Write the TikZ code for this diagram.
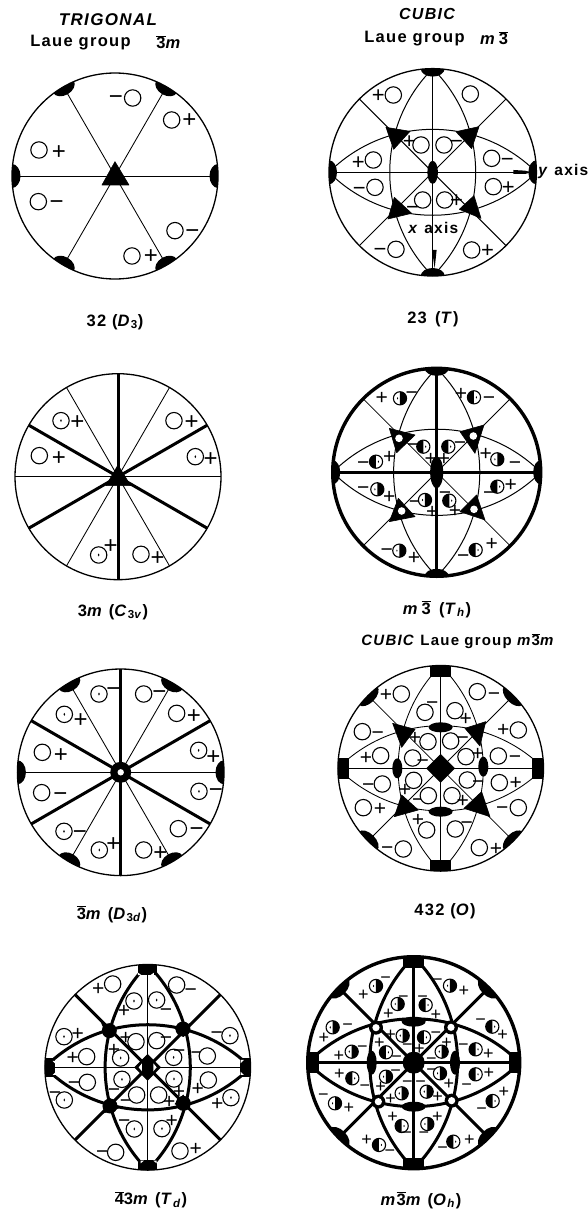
\documentclass[tikz,border=0pt]{standalone}
\usepackage{fontspec}
\setmainfont[LetterSpace=8]{Liberation Sans}
\newfontfamily\sgnfont{Liberation Sans}
\newcount\symid
\def\sgs{24}
\tikzset{
 thinl/.style={line width=0.85pt},
 medl/.style={line width=1pt},
 thickl/.style={line width=3pt},
 rimthin/.style={line width=1.3pt},
 rimthick/.style={line width=3.4pt},
 sgn/.style={inner sep=0pt,text height=0.7*\sgs pt,text depth=0pt,font=\fontsize{\sgs}{\sgs}\sgnfont},
 lab/.style={inner sep=0pt,font=\fontsize{16.5}{18}\selectfont\bfseries},
 blk/.style={fill=black,draw=black,line width=0.6pt,line join=round},
 sym/.style={draw=black,fill=white,line width=1.1pt},
}
\newcommand\ov[1]{\ensuremath{\overline{\mbox{#1}}}}
\newcommand\pl[2]{\global\advance\symid by 1 \node[sgn] (s\the\symid) at (#1,#2) {+};}
\newcommand\mi[2]{\global\advance\symid by 1 \node[sgn] (s\the\symid) at (#1,#2) {−};}
\newcommand\ci[2]{\draw[sym] (#1,#2) circle[radius=8.2pt];}
\newcommand\cc[2]{\draw[sym] (#1,#2) circle[radius=8.2pt];\fill (#1,#2) ellipse[x radius=0.8pt,y radius=1.5pt];}
% half-filled circles: black half right or left, comma in the open half
\newcommand\hr[3][6.6pt]{\draw[sym] (#2,#3) circle[radius=#1];\fill (#2,#3)++(0,#1) arc[start angle=90,end angle=-90,radius=#1]--cycle;\fill (#2,#3)++(-2.4pt,0) ellipse[x radius=.6pt,y radius=1.2pt];}
\newcommand\hl[3][6.6pt]{\draw[sym] (#2,#3) circle[radius=#1];\fill (#2,#3)++(0,#1) arc[start angle=90,end angle=270,radius=#1]--cycle;\fill (#2,#3)++(2.4pt,0) ellipse[x radius=.6pt,y radius=1.2pt];}
% rim and clipped helpers, with \R the radius in pt
\newcommand\rays[3]{\foreach \a in {#2}{\draw[#1] (0,0)--(\a:\R pt);}}
\newcommand\bigarcs[1]{\begin{scope}\clip (0,0) circle[radius=\R pt];
 \foreach \p in {(\R pt,0),(-\R pt,0),(0,\R pt),(0,-\R pt)}{\draw[#1] \p circle[radius=1.41421*\R pt];}\end{scope}}
\newcommand\rimlens[3]{\begin{scope}\clip (0,0) circle[radius=\R pt];
 \foreach \a in {#1}{\fill[shift={(\a:\R pt)},rotate=\a] (0,0) ellipse[x radius=#2 pt,y radius=#3 pt];}\end{scope}}
\newcommand\rimsq[3]{\begin{scope}\clip (0,0) circle[radius=\R pt];
 \foreach \a in {#1}{\fill[shift={(\a:\R pt)},rotate=\a] (-#2 pt,-#3 pt) rectangle (2pt,#3 pt);}\end{scope}}
\begin{document}
\begin{tikzpicture}[x=1pt,y=-1pt]
\useasboundingbox[fill=white] (0,0) rectangle (588,1213);
%% ---- headings and captions
\node[lab,font=\fontsize{17}{18}\selectfont\bfseries\itshape] (h1) at (108,20) {TRIGONAL};
\node[lab] (h2) at (80.5,43) {Laue group};
\node[lab] (h3) at (169,42) {\ov{3}\textit{m}};
\node[lab,font=\fontsize{16}{18}\selectfont\itshape\bfseries] (h4) at (427,14) {CUBIC};
\node[lab] (h5) at (414.5,39) {Laue group};
\node[lab] (h6) at (494,38) {\textit{m}\,\ov{3}};
\node[lab] (c1) at (115,322) {32 (\textit{D}\textsubscript{3})};
\node[lab] (c2) at (433,319) {23\enspace(\textit{T})};
\node[lab] (c3) at (113,612) {3\textit{m} (\textit{C}\textsubscript{3\textit{v}})};
\node[lab] (c4) at (437,609) {\textit{m}\,\ov{3}\enspace(\textit{T}\textsubscript{\textit{h}})};
\node[lab,font=\fontsize{15}{18}\selectfont\bfseries] (c5) at (458,641) {\textit{CUBIC} Laue group \textit{m}\ov{3}\textit{m}};
\node[lab] (c6) at (112,914) {\ov{3}\textit{m} (\textit{D}\textsubscript{3\textit{d}})};
\node[lab] (c7) at (445,911) {432 (\textit{O})};
\node[lab] (c8) at (151,1200) {\ov{4}3\textit{m} (\textit{T}\textsubscript{\textit{d}})};
\node[lab] (c9) at (421,1200) {\textit{m}\ov{3}\textit{m} (\textit{O}\textsubscript{\textit{h}})};
%% ---- 32
\begin{scope}[shift={(115,176)}]
\def\R{103}
\rays{thinl}{0,60,120,180,240,300}{}
\rimlens{0,60,120,180,240,300}{8.5}{12}
\draw[rimthin] (0,0) circle[radius=\R pt];
\end{scope}
\begin{scope}[shift={(0,0)},x=0.3333pt,y=-0.3333pt]
\fill[blk] (345,485)--(387,555)--(306,555)--cycle;
\mi{348}{289}\ci{398}{294}\ci{515}{360}\pl{568}{358}\ci{117}{450}\pl{177}{453}
\ci{115}{605}\mi{170}{604}\ci{525}{692}\mi{577}{690}\ci{396}{768}\pl{453}{765}
\end{scope}
%% ---- 23
\begin{scope}[shift={(432.7,172.3)}]
\def\R{103.7}
\rays{medl}{0,45,90,135,180,225,270,315}{}
\bigarcs{medl}
\rimlens{0,90,180,270}{8}{12}
\draw[rimthin] (0,0) circle[radius=\R pt];
\end{scope}
\begin{scope}[shift={(300,0)},x=0.3333pt,y=-0.3333pt]
\def\sgs{22}
\fill[blk] (258,382)--(330,394)--(281,448)--cycle;
\fill[blk] (468,395)--(537,380)--(515,446)--cycle;
\fill[blk] (283,592)--(335,640)--(264,657)--cycle;
\fill[blk] (522,587)--(478,628)--(543,655)--cycle;
\fill (398,517) ellipse[x radius=5.3pt,y radius=11.5pt];
\fill (640,510)--(675,512)--(695,517)--(675,522)--(640,522)--cycle;
\fill (396,750)--(410,750)--(404,805)--cycle;
\ci{280}{285}\pl{235}{285}\ci{511}{282}
\pl{328}{423}\ci{363}{435}\ci{432}{435}\mi{470}{423}
\pl{175}{485}\ci{220}{480}\ci{575}{475}\mi{622}{475}
\mi{178}{563}\ci{225}{562}\ci{580}{560}\pl{625}{560}
\ci{368}{600}\mi{338}{620}\ci{434}{600}\pl{470}{600}
\mi{240}{745}\ci{288}{748}\ci{515}{750}\pl{563}{750}
\node[lab,font=\fontsize{15.5}{18}\selectfont\bfseries] (yax) at (790,516) {\textit{y} axis};
\node[lab,font=\fontsize{15.5}{18}\selectfont\bfseries] (xax) at (400,685) {\textit{x} axis};
\end{scope}
%% ---- 3m
\begin{scope}[shift={(118,476.7)}]
\def\R{103}
\rays{thinl}{0,60,120,180,240,300}{}
\rays{thickl}{30,90,150,210,270,330}{}
\draw[rimthin] (0,0) circle[radius=\R pt];
\end{scope}
\begin{scope}[shift={(0,340)},x=0.3333pt,y=-0.3333pt]
\fill[blk] (354,375)--(392,437)--(318,437)--cycle;
\cc{183}{242}\pl{232}{242}\ci{522}{242}\pl{575}{242}\ci{118}{347}\pl{177}{350}
\cc{586}{350}\pl{632}{353}\cc{296}{645}\pl{332}{615}\ci{423}{643}\pl{473}{652}
\end{scope}
%% ---- m3bar
\begin{scope}[shift={(436.7,472.3)}]
\def\R{104}
\rays{thinl}{45,135,225,315}{}
\rays{thickl}{0,90,180,270}{}
\bigarcs{medl}
\rimlens{0,90,180,270}{7.5}{12}
\draw[rimthick] (0,0) circle[radius=\R pt];
\end{scope}
\begin{scope}[shift={(300,340)},x=0.3333pt,y=-0.3333pt]
\def\sgs{21}
\fill[blk] (268,265)--(345,285)--(290,338)--cycle;
\fill[blk] (552,255)--(480,275)--(525,340)--cycle;
\fill[blk] (295,475)--(345,530)--(268,545)--cycle;
\fill[blk] (530,465)--(480,515)--(555,540)--cycle;
\fill[white] (297,295) circle[radius=3.8pt];
\fill[white] (520,288) circle[radius=3.8pt];
\fill[white] (305,513) circle[radius=3.8pt];
\fill[white] (522,508) circle[radius=3.8pt];
\fill (410,397) ellipse[x radius=6.5pt,y radius=16pt];
\pl{245}{172}\hr{300}{175}\mi{335}{155}
\pl{483}{158}\hl{522}{172}\mi{567}{172}
\mi{190}{365}\hl{228}{365}\pl{268}{348}
\mi{340}{312}\hl{370}{320}\pl{392}{355}
\hl{445}{320}\mi{480}{305}\pl{432}{355}
\pl{557}{340}\hr{592}{358}\mi{645}{365}
\mi{190}{442}\hr{232}{448}\pl{268}{468}
\hl{592}{440}\mi{568}{455}\pl{632}{432}
\mi{345}{482}\hr{375}{480}\pl{397}{512}
\hl{448}{482}\mi{435}{455}\pl{465}{510}
\mi{260}{628}\hr{298}{632}\pl{342}{652}
\mi{490}{645}\hl{527}{630}\pl{575}{610}
\end{scope}
%% ---- 3bar m
\begin{scope}[shift={(120.7,772.3)}]
\def\R{103.3}
\rays{thinl}{0,60,120,180,240,300}{}
\rays{thickl}{30,90,150,210,270,330}{}
\rimlens{0,60,120,180,240,300}{8.5}{12}
\draw[rimthin] (0,0) circle[radius=\R pt];
\fill (0,0) circle[radius=10.5pt];
\fill[white] (0,0) circle[radius=3.2pt];
\end{scope}
\begin{scope}[shift={(0,640)},x=0.3333pt,y=-0.3333pt]
\cc{297}{162}\mi{340}{143}\ci{431}{162}\mi{478}{153}
\cc{193}{223}\pl{242}{236}\ci{530}{220}\pl{582}{224}
\ci{127}{337}\pl{183}{341}\cc{596}{331}\pl{640}{347}
\ci{125}{458}\mi{181}{460}\cc{597}{454}\mi{648}{446}
\cc{192}{574}\mi{240}{574}\ci{535}{566}\mi{590}{564}
\cc{298}{630}\pl{340}{608}\ci{431}{630}\pl{481}{636}
\end{scope}
%% ---- 432
\begin{scope}[shift={(440.7,768.3)}]
\def\R{102.8}
\rays{thinl}{0,45,90,135,180,225,270,315}{}
\bigarcs{thinl}
\rimlens{45,135,225,315}{7.5}{13}
\rimsq{0,90,180,270}{11.5}{10.5}
\draw[rimthin] (0,0) circle[radius=\R pt];
\end{scope}
\begin{scope}[shift={(300,640)},x=0.3333pt,y=-0.3333pt]
\def\sgs{21}
\fill[blk] (278,250)--(345,268)--(305,322)--cycle;
\fill[blk] (557,245)--(495,265)--(540,318)--cycle;
\fill[blk] (305,465)--(355,510)--(283,530)--cycle;
\fill[blk] (545,455)--(492,505)--(570,530)--cycle;
\fill[blk] (422,343)--(464,385)--(422,427)--(380,385)--cycle;
\fill (422,262) ellipse[x radius=12pt,y radius=5pt];
\fill (422,515) ellipse[x radius=12pt,y radius=5pt];
\fill (292,385) ellipse[x radius=5pt,y radius=10pt];
\fill (550,380) ellipse[x radius=5pt,y radius=10pt];
\pl{258}{163}\ci{304}{162}\ci{532}{155}\mi{582}{158}
\mi{397}{187}\ci{375}{217}\ci{465}{212}\pl{497}{233}
\ci{187}{275}\mi{233}{275}\pl{610}{268}\ci{655}{270}
\pl{345}{292}\ci{384}{305}\ci{452}{303}\mi{488}{290}
\pl{198}{350}\ci{242}{347}\ci{595}{348}\mi{645}{347}
\ci{338}{354}\mi{368}{360}\ci{498}{350}\pl{533}{340}
\mi{205}{433}\ci{247}{432}\ci{598}{428}\pl{647}{427}
\ci{341}{421}\pl{315}{447}\ci{502}{420}\mi{535}{424}
\mi{355}{478}\ci{385}{467}\ci{456}{467}\pl{488}{480}
\ci{190}{503}\pl{240}{505}\mi{607}{502}\ci{655}{503}
\pl{354}{538}\ci{380}{570}\ci{466}{567}\mi{500}{545}
\mi{262}{620}\ci{310}{627}\ci{538}{623}\pl{588}{623}
\end{scope}
%% ---- 4bar 3 m
\begin{scope}[shift={(147.7,1067.3)}]
\def\R{102.8}
\rays{thinl}{0,90,180,270}{}
\rays{thickl}{45,135,225,315}{}
\bigarcs{thickl}
\rimsq{0,90,180,270}{10.5}{9.5}
\draw[rimthin] (0,0) circle[radius=\R pt];
\end{scope}
\begin{scope}[shift={(0,920)},x=0.3333pt,y=-0.3333pt]
\def\sgs{21}
\fill[white] (414,158)--(424,165)--(414,165)--cycle (462,158)--(452,165)--(462,165)--cycle;
\fill[white] (422,730)--(432,722)--(422,722)--cycle (470,730)--(460,722)--(470,722)--cycle;
\fill[white] (158,423)--(168,433)--(168,423)--cycle (158,465)--(168,455)--(168,465)--cycle;
\fill[white] (732,420)--(722,430)--(722,420)--cycle (732,465)--(722,455)--(722,465)--cycle;
\foreach \x/\y in {328/332,549/327,330/558,550/550}{\fill (\x,\y) circle[radius=7.5pt];}
\fill[blk] (305,310)--(350,325)--(325,355)--cycle;
\fill[blk] (573,310)--(525,325)--(550,350)--cycle;
\fill[blk] (330,535)--(355,565)--(308,580)--cycle;
\fill[blk] (550,525)--(525,552)--(573,572)--cycle;
\fill[blk] (443,403)--(482,442)--(443,481)--(404,442)--cycle;
\fill[white] (416,442)--(426,430)--(426,454)--cycle (470,442)--(460,430)--(460,454)--cycle;
\pl{295}{205}\ci{338}{192}\ci{530}{195}\mi{572}{206}
\cc{402}{243}\pl{372}{270}\cc{470}{240}\mi{498}{267}
\cc{192}{350}\pl{233}{338}\mi{650}{335}\cc{690}{347}
\pl{377}{352}\ci{408}{365}\ci{470}{362}\mi{498}{350}
\pl{342}{388}\cc{362}{414}\cc{521}{412}\mi{538}{390}
\pl{218}{412}\ci{260}{410}\mi{590}{395}\ci{622}{408}
\cc{366}{478}\mi{342}{508}\cc{522}{477}\pl{537}{513}
\mi{222}{486}\ci{262}{487}\pl{593}{503}\ci{625}{480}
\mi{378}{540}\ci{410}{525}\ci{476}{525}\pl{508}{542}
\mi{165}{517}\cc{193}{540}\pl{652}{548}\cc{693}{533}
\mi{373}{600}\cc{403}{627}\cc{486}{626}\pl{515}{600}
\mi{307}{693}\ci{347}{697}\ci{540}{693}\pl{587}{685}
\end{scope}
%% ---- m3bar m
\begin{scope}[shift={(413.7,1062.7)}]
\def\R{106}
\rays{thickl}{0,45,90,135,180,225,270,315}{}
\bigarcs{thickl}
\rimlens{45,135,225,315}{8}{13}
\rimsq{0,90,180,270}{11}{10.5}
\draw[rimthick] (0,0) circle[radius=\R pt];
\end{scope}
\begin{scope}[shift={(300,920)},x=0.3333pt,y=-0.3333pt]
\def\sgs{18}
\fill (341,428) circle[radius=11pt];
\fill (341,305) ellipse[x radius=12pt,y radius=5pt];
\fill (341,560) ellipse[x radius=12pt,y radius=5pt];
\fill (215,428) ellipse[x radius=5pt,y radius=12pt];
\fill (465,428) ellipse[x radius=5pt,y radius=12pt];
\foreach \x/\y in {228/323,453/322,235/545,455/542}{\fill (\x,\y) circle[radius=7pt];\fill[white] (\x,\y) circle[radius=3.6pt];}
\pl{190}{222}\hr{228}{198}\mi{257}{173}
\mi{412}{178}\hr{450}{197}\pl{492}{212}
\mi{310}{228}\hr{293}{252}\pl{265}{280}
\mi{368}{228}\hl{377}{255}\pl{408}{282}
\pl{72}{352}\hr{98}{322}\mi{143}{312}
\mi{542}{298}\hl{577}{320}\pl{608}{343}
\pl{272}{342}\hr{308}{347}\mi{322}{374}
\hl{372}{352}\mi{408}{338}\pl{358}{386}
\pl{238}{368}\hl{258}{397}\mi{290}{408}
\hr{425}{395}\mi{394}{414}\pl{440}{368}
\hr{155}{395}\mi{187}{378}\pl{117}{405}
\mi{490}{373}\hl{527}{388}\pl{565}{400}
\pl{118}{460}\hl{157}{475}\mi{195}{495}
\hl{527}{463}\pl{567}{458}\mi{500}{493}
\hr{258}{470}\mi{287}{450}\pl{242}{500}
\mi{395}{447}\hr{420}{460}\pl{447}{490}
\hr{305}{520}\mi{322}{483}\pl{272}{535}
\hr{380}{515}\mi{362}{483}\pl{413}{530}
\mi{70}{522}\hr{105}{550}\pl{147}{562}
\hl{578}{543}\mi{545}{565}\pl{612}{515}
\pl{278}{590}\hl{305}{618}\mi{320}{637}
\hr{382}{612}\pl{412}{590}\mi{372}{637}
\pl{200}{658}\hl{237}{675}\mi{270}{692}
\mi{428}{682}\hl{460}{665}\pl{508}{657}
\end{scope}
\end{tikzpicture}
\end{document}
